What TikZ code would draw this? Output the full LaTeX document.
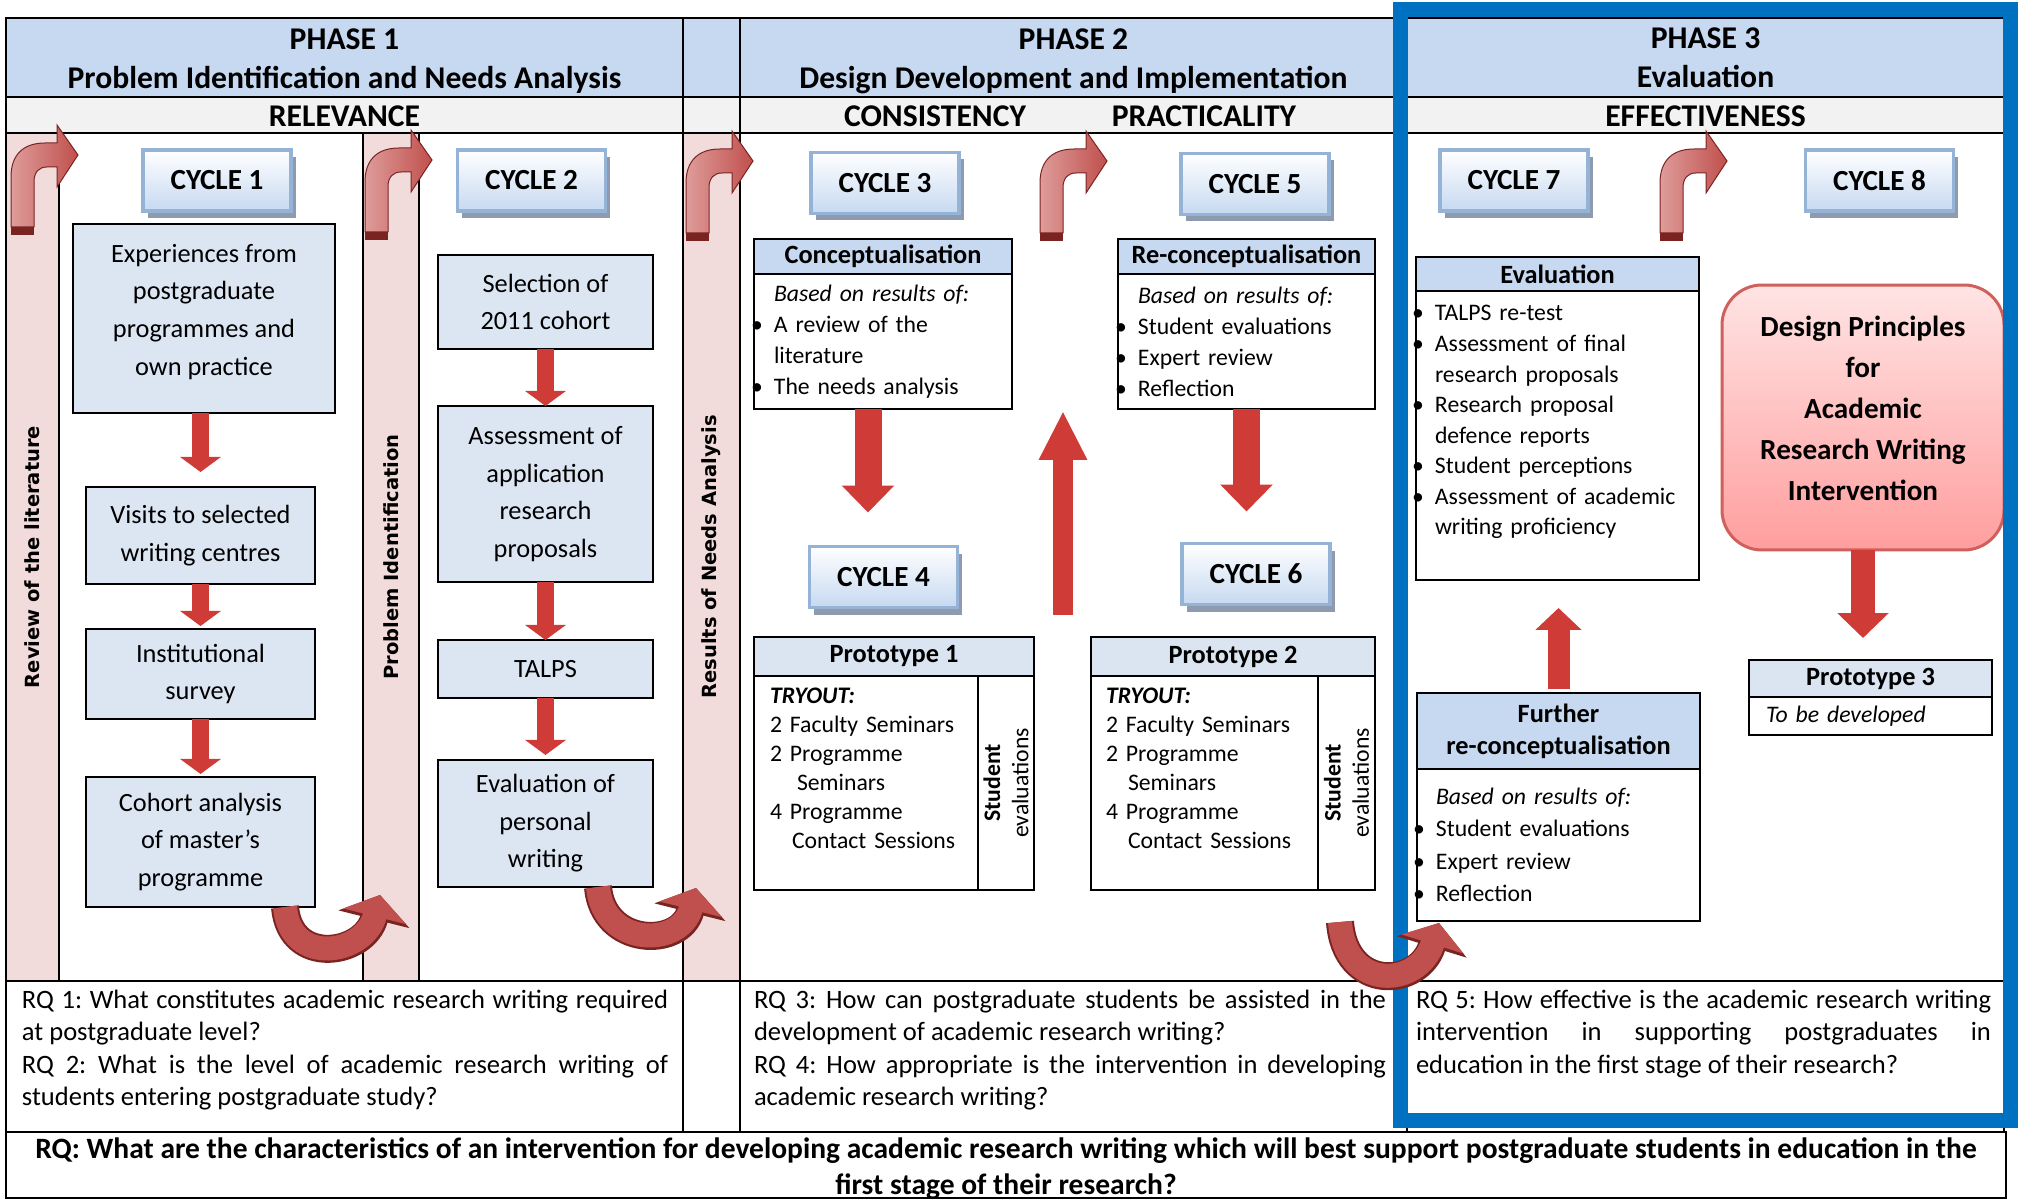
\documentclass[tikz,border=0pt]{standalone}
\usepackage{fontspec}
\setmainfont{Carlito}
\newfontfamily\stripfont{DejaVu Sans}
\usepackage{xcolor}
\usepackage{tikz}
\usetikzlibrary{positioning, arrows.meta, shadows}

\definecolor{headblue}{HTML}{C6D9F1}
\definecolor{subgray}{HTML}{F2F2F2}
\definecolor{stripred}{HTML}{F2DCDB}
\definecolor{boxblue}{HTML}{DCE6F2}
\definecolor{protoblue}{HTML}{DBE5F1}
\definecolor{cycleedge}{HTML}{95B3D7}
\definecolor{shadowgray}{HTML}{8E9BAE}
\definecolor{blockred}{HTML}{CF3B37}
\definecolor{arrowred}{HTML}{C0504D}
\definecolor{arrowlight}{HTML}{DE9C9A}
\definecolor{arrowdark}{HTML}{7A2422}
\definecolor{framebl}{HTML}{0070C0}
\definecolor{designtop}{HTML}{FFE4E4}
\definecolor{designbot}{HTML}{FF9E9E}
\definecolor{designedge}{HTML}{D0605C}

\newcommand{\fs}[2]{\fontsize{#1}{#2}\selectfont}
\newcommand{\bul}{\leavevmode\llap{\textbullet\hspace{1.1mm}}}
\frenchspacing

\begin{document}
\begin{tikzpicture}[
            x=0.1mm, y=-0.1mm,
            every node/.style={outer sep=0pt},
            cell/.style={draw, line width=0.25mm},
            headtxt/.style={align=center, inner sep=0pt, font=\bfseries\fs{9}{11.1}},
            strip/.style={draw, line width=0.25mm, fill=stripred, rotate=90, minimum width=84.8mm,
                          inner sep=0pt, font=\stripfont\bfseries\fs{5.55}{6.5}},
            cyclebox/.style={draw=cycleedge, line width=0.35mm, top color=white, bottom color=headblue,
                          minimum width=14.8mm, minimum height=6.1mm, font=\bfseries\fs{8.3}{10},
                          drop shadow={shadow xshift=0.45mm, shadow yshift=-0.7mm, fill=shadowgray, opacity=1}},
            stagebox/.style={draw, line width=0.25mm, fill=boxblue, align=center, inner sep=0pt, font=\fs{7.5}{10.7}},
            hdrbox/.style={draw, line width=0.25mm, fill=headblue, align=center, inner sep=0pt, font=\bfseries\fs{7.5}{9.1}},
            listbox/.style={draw, line width=0.25mm, fill=white, align=left, inner ysep=0pt, font=\fs{6.75}{8.8}},
            designbox/.style={draw=designedge, line width=0.3mm, rounded corners=4mm, top color=designtop,
                          bottom color=designbot, minimum width=28.2mm, minimum height=26.5mm, align=center,
                          font=\bfseries\fs{8.3}{11.7}},
            rqtxt/.style={align=justify, inner sep=0pt, anchor=north west,
                          font={\fs{7.55}{9.25}\hyphenpenalty=10000 \tolerance=10000 }},
            blockarrow/.style n args={3}{draw=blockred, line width=#1, -{Triangle[width=#2, length=#3]}},
            uturn/.style={draw=arrowred, line width=2.4mm, -{Triangle[width=6.4mm, length=2.2mm]},
                          preaction={draw=arrowdark, line width=2.8mm, -{Triangle[width=7.2mm, length=2.5mm]}}},
            bentup/.pic={
                \shadedraw[left color=arrowlight, right color=arrowred, draw=arrowdark, line width=0.1mm]
                    (0,0) -- (0,-50) .. controls (0,-72) and (12,-84) .. (34,-84) -- (46,-84) -- (46,-102)
                    -- (67,-72) -- (46,-40) -- (46,-60) -- (36,-60) .. controls (28,-60) and (23,-55) .. (23,-45)
                    -- (23,0) -- cycle;
                \fill[arrowdark] (0,0) rectangle (23,8);
            }
        ]

        % table
        \useasboundingbox (0,0) rectangle (2018,1200);
        \fill[headblue] (6,18) rectangle (2004,97);
        \fill[subgray] (6,97) rectangle (2004,133);
        \draw[cell] (6,18) rectangle (2004,1132);
        \draw[cell] (6,97) -- (2004,97) (6,133) -- (2004,133) (6,981) -- (2004,981);
        \draw[cell] (683,18) -- (683,1132) (740,18) -- (740,1132) (1407,18) -- (1407,1132);
        \draw[cell] (6,1132) rectangle (2006,1198);

        % headings
        \node[headtxt] (ph1) at (344.5,61.5) {PHASE 1\\Problem Identification and Needs Analysis};
        \node[headtxt] (ph2) at (1073.5,61.5) {PHASE 2\\Design Development and Implementation};
        \node[headtxt] (ph3) at (1705.5,57.5) {PHASE 3\\Evaluation};
        \node[headtxt] (rel) at (344.5,116) {RELEVANCE};
        \node[headtxt] (cons) at (935,116) {CONSISTENCY};
        \node[headtxt] (prac) at (1204,116) {PRACTICALITY};
        \node[headtxt] (eff) at (1705.5,116) {EFFECTIVENESS};

        % side strips
        \node[strip, minimum height=5.3mm] (lit) at (32.5,557) {Review of the literature};
        \node[strip, minimum height=5.6mm] (prob) at (391,557) {Problem Identification};
        \node[strip, minimum height=5.7mm] (needs) at (711.5,557) {Results of Needs Analysis};

        \pic at (11,227) {bentup};
        \pic at (365,232) {bentup};
        \pic at (686,233) {bentup};
        \pic at (1040,233) {bentup};
        \pic at (1660,233) {bentup};

        % Phase 1
        \node[cyclebox] (cyc1) at (217,180.5) {CYCLE 1};
        \node[cyclebox] (cyc2) at (531.5,180.5) {CYCLE 2};
        \node[stagebox, minimum width=26.2mm, minimum height=18.9mm] (exp) at (204,318.5) {Experiences from\\postgraduate\\programmes and\\own practice\\[-2mm]\mbox{}};
        \node[stagebox, minimum width=22.9mm, minimum height=9.7mm, below=7.4mm of exp, xshift=-0.35mm] (vis) {Visits to selected\\writing centres};
        \node[stagebox, minimum width=22.9mm, minimum height=9mm, below=4.5mm of vis] (inst) {Institutional\\survey};
        \node[stagebox, minimum width=22.9mm, minimum height=13mm, below=5.8mm of inst] (coh) {Cohort analysis\\of master's\\programme};
        \node[stagebox, minimum width=21.5mm, minimum height=9.4mm] (sel) at (545.5,302) {Selection of\\2011 cohort};
        \node[stagebox, minimum width=21.5mm, minimum height=17.6mm, below=5.7mm of sel] (ass) {Assessment of\\application\\research\\proposals};
        \node[stagebox, minimum width=21.5mm, minimum height=5.8mm, below=5.8mm of ass] (talps) {TALPS};
        \node[stagebox, minimum width=21.5mm, minimum height=12.7mm, below=6.2mm of talps] (evw) {Evaluation of\\personal\\writing};
        \draw[blockarrow={1.7mm}{4mm}{1.5mm}, shorten >=1.5mm] (exp.south -| vis.north) -- (vis.north);
        \draw[blockarrow={1.7mm}{4mm}{1.5mm}, shorten >=0.3mm] (vis.south) -- (inst.north);
        \draw[blockarrow={1.7mm}{4mm}{1.5mm}, shorten >=0.3mm] (inst.south) -- (coh.north);
        \draw[blockarrow={1.7mm}{4mm}{1.5mm}] (sel.south) -- (ass.north);
        \draw[blockarrow={1.7mm}{4mm}{1.5mm}] (ass.south) -- (talps.north);
        \draw[blockarrow={1.7mm}{4mm}{1.5mm}, shorten >=0.5mm] (talps.south) -- (evw.north);

        % Phase 2
        \node[cyclebox] (cyc3) at (885,183) {CYCLE 3};
        \node[cyclebox] (cyc5) at (1255,184) {CYCLE 5};
        \node[cyclebox] (cyc4) at (883.5,577) {CYCLE 4};
        \node[cyclebox] (cyc6) at (1256,574) {CYCLE 6};
        \node[hdrbox, minimum width=25.8mm, minimum height=3.5mm] (c3h) at (883,256.5) {Conceptualisation};
        \node[listbox, text width=21.8mm, inner xsep=2mm, minimum height=13.5mm, below=0pt of c3h] (c3b)
            {\textit{Based on results of:}\\\bul A review of the\\literature\\\bul The needs analysis};
        \node[hdrbox, minimum width=25.7mm, minimum height=3.5mm] (c5h) at (1246.5,256.5) {Re-conceptualisation};
        \node[listbox, text width=21.7mm, inner xsep=2mm, minimum height=13.5mm, below=0pt of c5h] (c5b)
            {\textit{Based on results of:}\\\bul Student evaluations\\\bul Expert review\\\bul Reflection};
        \node[hdrbox, fill=protoblue, minimum width=28mm, minimum height=3.9mm] (p1h) at (894,656.5) {Prototype 1};
        \node[listbox, text width=19.2mm, inner xsep=1.6mm, minimum height=21.4mm, font=\fs{6.75}{8.25},
              below=0pt of p1h.south west, anchor=north west] (p1l)
            {\textbf{\textit{TRYOUT:}}\\2 Faculty Seminars\\2 Programme\\\hspace*{2.7mm}Seminars\\4 Programme\\\hspace*{2.2mm}Contact Sessions\\\mbox{}};
        \node[listbox, align=center, inner sep=0pt, rotate=90, minimum width=21.4mm, minimum height=5.6mm,
              font=\fs{6.75}{8}, right=0pt of p1l, anchor=north] (p1r) {\textbf{Student}\\evaluations};
        \node[hdrbox, fill=protoblue, minimum width=28.4mm, minimum height=3.9mm] (p2h) at (1233,656.5) {Prototype 2};
        \node[listbox, text width=19.7mm, inner xsep=1.5mm, minimum height=21.4mm, font=\fs{6.75}{8.25},
              below=0pt of p2h.south west, anchor=north west] (p2l)
            {\textbf{\textit{TRYOUT:}}\\2 Faculty Seminars\\2 Programme\\\hspace*{2.2mm}Seminars\\4 Programme\\\hspace*{2.2mm}Contact Sessions\\\mbox{}};
        \node[listbox, align=center, inner sep=0pt, rotate=90, minimum width=21.4mm, minimum height=5.7mm,
              font=\fs{6.75}{8}, right=0pt of p2l, anchor=north] (p2r) {\textbf{Student}\\evaluations};
        \coordinate (c3arr) at ([xshift=-1.5mm]c3b.south);
        \draw[blockarrow={2.7mm}{5.1mm}{2.7mm}, shorten >=3.4mm] (c3arr) -- (c3arr |- cyc4.north);
        \draw[blockarrow={2.7mm}{5.1mm}{2.7mm}, shorten >=3.2mm] (c5b.south) -- (c5b.south |- cyc6.north);
        \coordinate (midlow) at (1063,615);
        \coordinate (midhigh) at (1063,411);
        \draw[blockarrow={2mm}{4.5mm}{4.9mm}] (midlow) -- (midhigh);

        % Phase 3
        \node[cyclebox] (cyc7) at (1514,180.5) {CYCLE 7};
        \node[cyclebox] (cyc8) at (1879.5,180.5) {CYCLE 8};
        \node[hdrbox, minimum width=28.3mm, minimum height=3.4mm] (evh) at (1557.5,274) {Evaluation};
        \node[listbox, text width=24.5mm, inner xsep=1.9mm, minimum height=28.9mm, font=\fs{6.75}{8.7},
              below=0pt of evh] (evb)
            {\bul TALPS re-test\\\bul Assessment of final\\research proposals\\\bul Research proposal\\defence reports\\\bul Student perceptions\\\bul Assessment of academic\\writing proficiency\\\mbox{}};
        \node[hdrbox, minimum width=28.3mm, minimum height=7.6mm] (frh) at (1558.5,731) {Further\\re-conceptualisation};
        \node[listbox, text width=24.5mm, inner xsep=1.9mm, minimum height=15.2mm, font=\fs{6.75}{9.2},
              below=0pt of frh] (frb)
            {\textit{Based on results of:}\\\bul Student evaluations\\\bul Expert review\\\bul Reflection};
        \node[designbox] (dp) at (1863,417.5) {Design Principles\\for\\Academic\\Research Writing\\Intervention\\[-2.3mm]\mbox{}};
        \node[hdrbox, fill=protoblue, minimum width=24.3mm, minimum height=3.7mm] (p3h) at (1870.5,678.5) {Prototype 3};
        \node[listbox, text width=20.9mm, inner xsep=1.7mm, minimum height=3.8mm, below=0pt of p3h] (p3b)
            {\textit{To be developed}};
        \draw[blockarrow={2.4mm}{5mm}{2.5mm}, shorten >=2.2mm] (dp.south) -- (dp.south |- p3h.north);
        \draw[blockarrow={2.2mm}{4.5mm}{2.2mm}, shorten <=0.4mm, shorten >=2.8mm] (frh.north) -- (frh.north |- evb.south);

        % research questions
        \node[rqtxt, text width=64.6mm] (rq12) at (22,990)
            {RQ 1: What constitutes academic research writing required\linebreak at postgraduate level?\\RQ 2: What is the level of academic research writing of\linebreak students entering postgraduate study?};
        \node[rqtxt, text width=63.2mm] (rq34) at (754,990)
            {RQ 3: How can postgraduate students be assisted in the\linebreak development of academic research writing?\\RQ 4: How appropriate is the intervention in developing\linebreak academic research writing?};
        \node[rqtxt, text width=57.5mm] (rq5) at (1416,990)
            {RQ 5: How effective is the academic research writing\linebreak intervention in supporting postgraduates in\linebreak education in the first stage of their research?};
        \node[align=center, inner sep=0pt, font=\bfseries\fs{8.4}{10.2}] (rqmain) at (1006,1169)
            {RQ: What are the characteristics of an intervention for developing academic research writing which will best support postgraduate students in education in the\\first stage of their research?};

        % turning arrows
        \coordinate (turn12) at (380,895);
        \coordinate (turn23) at (696,888);
        \coordinate (turn34) at (1439,923);
        \draw[uturn] ([xshift=-3mm]coh.south east) .. controls +(5,60) and +(-15,60) .. (turn12);
        \draw[uturn] ([xshift=5.25mm]evw.south) .. controls +(5,60) and +(-15,60) .. (turn23);
        \draw[framebl, line width=1.5mm] (1400,10) rectangle (2010,1120);
        \draw[uturn] ([xshift=2.2mm, yshift=-3.2mm]p2l.south east) .. controls +(5,70) and +(-20,65) .. (turn34);

\end{tikzpicture}
\end{document}
